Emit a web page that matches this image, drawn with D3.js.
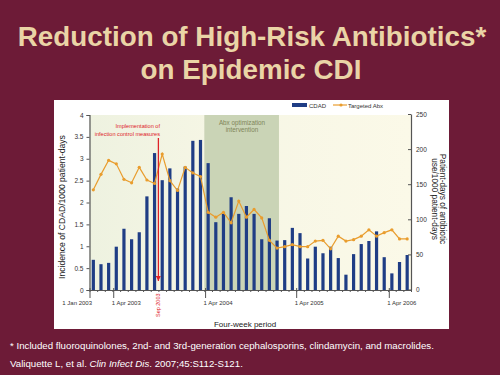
<!DOCTYPE html>
<html>
<head>
<meta charset="utf-8">
<script src="https://cdn.jsdelivr.net/npm/d3@7"></script>
<style>
  body { margin: 0; background: #6D1B37; }
  svg { display: block; font-family: "Liberation Sans", Arial, sans-serif; }
</style>
</head>
<body>
<div id="chart"></div>
<script>
// CDAD incidence per four-week period (left axis)
var cdad = [0.69, 0.59, 0.62, 0.99, 1.40, 1.16, 1.32, 2.14, 3.13, 2.51,
            2.78, 2.32, 2.82, 3.41, 3.43, 2.90, 1.55, 1.74, 2.12, 1.74,
            1.92, 1.74, 1.16, 1.64, 1.13, 1.14, 1.42, 1.30, 0.72, 0.99,
            0.84, 0.99, 0.73, 0.35, 0.82, 1.05, 1.12, 1.34, 0.75, 0.38,
            0.64, 0.80];
// Targeted antibiotic use, patient-days/1000 patient-days (right axis)
var targetedAbx = [142, 164, 184, 179, 157, 152, 174, 156, 151, 193,
                   155, 141, 174, 166, 161, 110, 103, 110, 95, 126,
                   103, 114, 102, 70, 59, 61, 64, 61, 61, 69,
                   70, 58, 76, 69, 71, 76, 85, 76, 81, 85,
                   72, 72];
var leftTicks = [0, 0.5, 1, 1.5, 2, 2.5, 3, 3.5, 4];
var rightTicks = [0, 50, 100, 150, 200, 250];
var dateLabels = ["1 Jan 2003", "1 Apr 2003", "1 Apr 2004", "1 Apr 2005", "1 Apr 2006"];
var datePos = [-0.5, 2.6, 14.6, 26.5, 38.6];   // in period units
var interventionArrow = 8.5;                  // Sep 2003
var abxWindow = [14.5, 24.25];

var width = 500, height = 375;
var svg = d3.select("#chart").append("svg")
    .attr("width", width)
    .attr("height", height);

// Title
var title = svg.append("text")
    .attr("text-anchor", "middle")
    .attr("font-size", "27.8px")
    .attr("font-weight", "bold")
    .attr("fill", "#EAD4A6");
title.append("tspan").attr("x", 252).attr("y", 46).text("Reduction of High-Risk Antibiotics*");
title.append("tspan").attr("x", 251).attr("y", 79).text("on Epidemic CDI");

// White panel
svg.append("rect")
    .attr("x", 54).attr("y", 100)
    .attr("width", 395).attr("height", 229)
    .attr("fill", "#ffffff");

var x = d3.scaleLinear().domain([-0.5, 41.5]).range([89.5, 411]);
var yL = d3.scaleLinear().domain([0, 4]).range([290, 115]);
var yR = d3.scaleLinear().domain([0, 250]).range([289.5, 114]);

// Plot background
var grad = svg.append("defs").append("linearGradient")
    .attr("id", "bg").attr("x1", "0").attr("x2", "1");
grad.append("stop").attr("offset", "0").attr("stop-color", "#EEF2E0");
grad.append("stop").attr("offset", "0.4").attr("stop-color", "#F6F6E5");
grad.append("stop").attr("offset", "1").attr("stop-color", "#FBF9E8");

svg.append("rect")
    .attr("x", x(-0.5)).attr("y", yL(4))
    .attr("width", x(41.5) - x(-0.5)).attr("height", yL(0) - yL(4))
    .attr("fill", "url(#bg)");

// Abx optimization window
svg.append("rect")
    .attr("x", x(abxWindow[0])).attr("y", yL(4))
    .attr("width", x(abxWindow[1]) - x(abxWindow[0]))
    .attr("height", yL(0) - yL(4))
    .attr("fill", "#CAD4B6");

var abxLabel = svg.append("text")
    .attr("text-anchor", "middle")
    .attr("font-size", "6.3px")
    .attr("fill", "#7F8558");
abxLabel.append("tspan").attr("x", 242).attr("y", 124.5).text("Abx optimization");
abxLabel.append("tspan").attr("x", 242).attr("y", 132).text("intervention");

// Bars
svg.selectAll(".bar")
    .data(cdad)
    .enter().append("rect")
    .attr("class", "bar")
    .attr("x", function (d, i) { return x(i) - 1.6; })
    .attr("y", function (d) { return yL(d); })
    .attr("width", 3.2)
    .attr("height", function (d) { return yL(0) - yL(d); })
    .attr("fill", "#1F3D85");

// Targeted Abx line
var line = d3.line()
    .x(function (d, i) { return x(i); })
    .y(function (d) { return yR(d); });

svg.append("path")
    .datum(targetedAbx)
    .attr("d", line)
    .attr("fill", "none")
    .attr("stroke", "#E99D2E")
    .attr("stroke-width", 1.2);

svg.selectAll(".dot")
    .data(targetedAbx)
    .enter().append("circle")
    .attr("class", "dot")
    .attr("cx", function (d, i) { return x(i); })
    .attr("cy", function (d) { return yR(d); })
    .attr("r", 1.6)
    .attr("fill", "#E99D2E");

// Infection control arrow
var red = "#DE2228";
svg.append("defs").append("marker")
    .attr("id", "arrow")
    .attr("viewBox", "0 0 10 10")
    .attr("refX", 10).attr("refY", 5)
    .attr("markerWidth", 4).attr("markerHeight", 4)
    .attr("orient", "auto")
    .append("path")
    .attr("d", "M0,0L10,5L0,10Z")
    .attr("fill", red);

svg.append("line")
    .attr("x1", x(interventionArrow)).attr("x2", x(interventionArrow))
    .attr("y1", 138).attr("y2", 281)
    .attr("stroke", red)
    .attr("stroke-width", 1.3)
    .attr("marker-end", "url(#arrow)");

var implLabel = svg.append("text")
    .attr("text-anchor", "end")
    .attr("font-size", "5.6px")
    .attr("fill", red);
implLabel.append("tspan").attr("x", 160).attr("y", 128).text("Implementation of");
implLabel.append("tspan").attr("x", 160).attr("y", 135.5).text("infection control measures");

svg.append("text")
    .attr("transform", "translate(" + (x(interventionArrow) + 2) + ",317) rotate(-90)")
    .attr("font-size", "5.5px")
    .attr("fill", red)
    .text("Sep 2003");

// Axes
var leftAxis = svg.append("g")
    .attr("transform", "translate(" + x(-0.5) + ",0)")
    .call(d3.axisLeft(yL).tickValues(leftTicks).tickSize(3).tickPadding(3)
        .tickFormat(function (d) { return String(d); }));

var rightAxis = svg.append("g")
    .attr("transform", "translate(" + x(41.5) + ",0)")
    .call(d3.axisRight(yR).tickValues(rightTicks).tickSizeInner(-3).tickSizeOuter(0).tickPadding(5));

var minorTicks = d3.range(-0.5, 42, 1);
var bottomMinor = svg.append("g")
    .attr("transform", "translate(0," + yL(0) + ")")
    .call(d3.axisBottom(x).tickValues(minorTicks).tickSize(2).tickSizeOuter(0).tickFormat(""));

var bottomMajor = svg.append("g")
    .attr("transform", "translate(0," + (yL(0) - 2) + ")")
    .call(d3.axisBottom(x).tickValues(datePos).tickSize(10).tickPadding(3)
        .tickFormat(function (d, i) { return dateLabels[i]; }));
bottomMajor.select(".domain").remove();
bottomMajor.selectAll("text")
    .attr("text-anchor", function (d, i) { return i === 0 ? "end" : "start"; })
    .attr("dx", function (d, i) { return i === 0 ? "2" : "-2"; });

[leftAxis, rightAxis, bottomMinor, bottomMajor].forEach(function (g) {
    g.selectAll(".domain").attr("stroke", "#555").attr("stroke-width", 1.2);
    g.selectAll(".tick line").attr("stroke", "#555");
    g.selectAll(".tick text").attr("font-size", "6.5px").attr("fill", "#333")
        .attr("font-family", "Liberation Sans, Arial, sans-serif");
});
bottomMajor.selectAll(".tick text").attr("font-size", "6px");

// Axis titles
svg.append("text")
    .attr("transform", "translate(65,207) rotate(-90)")
    .attr("text-anchor", "middle")
    .attr("font-size", "8.6px")
    .attr("fill", "#222")
    .text("Incidence of CDAD/1000 patient-days");

var rTitle = svg.append("text")
    .attr("transform", "translate(440,199) rotate(90)")
    .attr("text-anchor", "middle")
    .attr("font-size", "8.3px")
    .attr("fill", "#222");
rTitle.append("tspan").attr("x", 0).attr("y", 0).text("Patient-days of antibiotic");
rTitle.append("tspan").attr("x", 0).attr("y", 8.3).text("use/1000 patient-days");

svg.append("text")
    .attr("x", 245).attr("y", 327)
    .attr("text-anchor", "middle")
    .attr("font-size", "8px")
    .attr("fill", "#222")
    .text("Four-week period");

// Legend
svg.append("rect")
    .attr("x", 292).attr("y", 103).attr("width", 15).attr("height", 4)
    .attr("fill", "#1F3D85");
svg.append("text")
    .attr("x", 309).attr("y", 107.5)
    .attr("font-size", "6px").attr("fill", "#333")
    .text("CDAD");
svg.append("line")
    .attr("x1", 333).attr("x2", 347).attr("y1", 105).attr("y2", 105)
    .attr("stroke", "#E99D2E").attr("stroke-width", 1.2);
svg.append("circle")
    .attr("cx", 341).attr("cy", 105).attr("r", 1.6)
    .attr("fill", "#E99D2E");
svg.append("text")
    .attr("x", 348).attr("y", 107.5)
    .attr("font-size", "6px").attr("fill", "#333")
    .text("Targeted Abx");

// Footnotes
svg.append("text")
    .attr("x", 10).attr("y", 349)
    .attr("font-size", "9.7px").attr("fill", "#ffffff")
    .text("* Included fluoroquinolones, 2nd- and 3rd-generation cephalosporins, clindamycin, and macrolides.");

var ref = svg.append("text")
    .attr("x", 10).attr("y", 367)
    .attr("font-size", "9.7px").attr("fill", "#ffffff");
ref.append("tspan").text("Valiquette L, et al. ");
ref.append("tspan").attr("font-style", "italic").text("Clin Infect Dis");
ref.append("tspan").text(". 2007;45:S112-S121.");
</script>
</body>
</html>
